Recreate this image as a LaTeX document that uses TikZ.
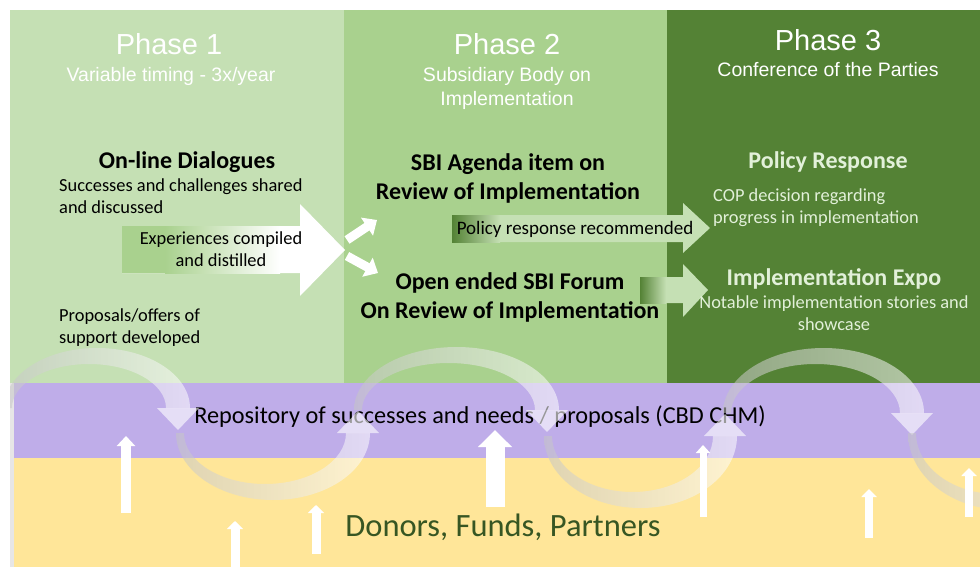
\documentclass[tikz,border=0pt]{standalone}
\usepackage{fontspec}
\setmainfont{Carlito}
\newfontfamily\headfont{Liberation Sans}
\usetikzlibrary{arrows.meta}

\definecolor{phaseone}{HTML}{C5E0B4}
\definecolor{phasetwo}{HTML}{A9D18E}
\definecolor{phasethree}{HTML}{548235}
\definecolor{repository}{HTML}{BFADE9}
\definecolor{donors}{HTML}{FFE699}
\definecolor{donortext}{HTML}{375623}
\definecolor{paletext}{HTML}{E2F0D9}
\definecolor{edgegray}{HTML}{E7E6E6}

\tikzset{
  phasetitle/.style={text=white, inner sep=0pt, anchor=base, font=\headfont\fontsize{29}{32}\selectfont},
  phasesub/.style={text=white, inner sep=0pt, anchor=base, align=center, font=\headfont\fontsize{19.5}{24}\selectfont},
  itemhead/.style={inner sep=0pt, anchor=base, align=center, font=\bfseries\fontsize{24}{29}\selectfont},
  itemtext/.style={inner sep=0pt, anchor=base, font=\fontsize{18.4}{22}\selectfont},
  ribbon/.style={left color=gray!45, right color=white, fill opacity=0.55},
  ribbonhead/.style={fill=white, fill opacity=0.6},
  uparrow/.style n args={3}{draw=white, line width=#1, -{Triangle[length=#3, width=#2]}},
  forkarrow/.style={draw=white, line width=9pt, -{Triangle[length=12pt, width=21pt]}}
}

\begin{document}
\begin{tikzpicture}[x=1pt, y=-1pt]
    \useasboundingbox (0,0) rectangle (980,567);
    % phase panels and bands
    \fill[phaseone] (10,10) rectangle (344,383);
    \fill[phasetwo] (344,10) rectangle (667,383);
    \fill[phasethree] (667,10) rectangle (980,383);
    \fill[edgegray] (10,383) rectangle (14,567);
    \fill[repository] (14,383) rectangle (980,458);
    \fill[donors] (14,458) rectangle (980,567);

    % phase 1
    \node[phasetitle] (phase1) at (169,55) {Phase 1};
    \node[phasesub] (phase1 sub) at (171,82) {Variable timing - 3x/year};
    \node[itemhead] (dialogues) at (187,168) {On-line Dialogues};
    \node[itemtext, anchor=base west, align=left] (dialogues text) at (59,213) {Successes and challenges shared\\and discussed};
    \fill[white] (122,226) -- (300,226) -- (300,204) -- (345,250) -- (300,296) -- (300,273) -- (122,273) -- cycle;
    \fill[phasetwo] (122,226) rectangle (165,273);
    \shade[left color=phasetwo, right color=white] (165,226) rectangle (280,273);
    \node[itemtext, align=center] (compiled) at (221,266) {Experiences compiled\\and distilled};
    \node[itemtext, anchor=base west, align=left] (proposals) at (59,343) {Proposals/offers of\\support developed};

    % phase 2
    \node[phasetitle] (phase2) at (507,55) {Phase 2};
    \node[phasesub] (phase2 sub) at (507,106) {Subsidiary Body on\\Implementation};
    \node[itemhead] (agenda) at (508,200) {SBI Agenda item on\\Review of Implementation};
    \node[itemhead] (forum) at (510,318) {Open ended SBI Forum\\On Review of Implementation};
    \coordinate (fork up) at (347,240);
    \coordinate (fork down) at (347,256);
    \coordinate (agenda in) at (377,220);
    \coordinate (forum in) at (378,273);
    \draw[forkarrow] (fork up) -- (agenda in);
    \draw[forkarrow] (fork down) -- (forum in);
    \fill[phaseone] (452,215) -- (683,215) -- (683,203) -- (710,228) -- (683,253) -- (683,242) -- (452,242) -- cycle;
    \shade[left color=phasethree, right color=phaseone] (452,215) rectangle (500,242);
    \node[itemtext, font=\fontsize{19}{22}\selectfont] (recommended) at (575,234) {Policy response recommended};
    \fill[phaseone] (640,277) -- (683,277) -- (683,264) -- (708,290) -- (683,317) -- (683,303) -- (640,303) -- cycle;
    \shade[left color=phasethree, right color=phaseone] (640,277) rectangle (666,303);

    % phase 3
    \node[phasetitle] (phase3) at (828,51) {Phase 3};
    \node[phasesub] (phase3 sub) at (828,77) {Conference of the Parties};
    \node[itemhead, text=paletext] (policy) at (828,168) {Policy Response};
    \node[itemtext, text=paletext, anchor=base west, align=left] (policy text) at (713,223) {COP decision regarding\\progress in implementation};
    \node[itemhead, text=paletext] (expo) at (834,285) {Implementation Expo};
    \node[itemtext, text=paletext, align=center] (expo text) at (834,330) {Notable implementation stories and\\showcase};

    % bands
    \node[inner sep=0pt, anchor=base, font=\fontsize{24.3}{28}\selectfont] (repo) at (480,423) {Repository of successes and needs / proposals (CBD CHM)};
    \node[inner sep=0pt, anchor=base, text=donortext, font=\fontsize{32.5}{36}\selectfont] (donors) at (503,536) {Donors, Funds, Partners};

    % cycle ribbons
    \begin{scope}
      \clip (10,0) rectangle (980,567);
      \shade[ribbon] (4,408) arc[start angle=180, end angle=360, x radius=93, y radius=60] -- (166,408) arc[start angle=360, end angle=180, x radius=77, y radius=44] -- cycle;
      \fill[ribbonhead] (157,408) -- (199,408) -- (178,430) -- cycle;
      \shade[ribbon] (176,433) arc[start angle=180, end angle=0, x radius=97, y radius=67] -- (346,433) arc[start angle=0, end angle=180, x radius=81, y radius=51] -- cycle;
      \fill[ribbonhead] (337,433) -- (379,433) -- (358,411) -- cycle;
      \shade[ribbon] (354,410) arc[start angle=180, end angle=360, x radius=102.5, y radius=63] -- (535,410) arc[start angle=360, end angle=180, x radius=86.5, y radius=47] -- cycle;
      \fill[ribbonhead] (526,410) -- (568,410) -- (547,432) -- cycle;
      \shade[ribbon] (544,436) arc[start angle=180, end angle=0, x radius=96.5, y radius=72] -- (713,436) arc[start angle=0, end angle=180, x radius=80.5, y radius=56] -- cycle;
      \fill[ribbonhead] (704,436) -- (746,436) -- (725,414) -- cycle;
      \shade[ribbon] (723,413) arc[start angle=180, end angle=360, x radius=100.5, y radius=65] -- (900,413) arc[start angle=360, end angle=180, x radius=84.5, y radius=49] -- cycle;
      \fill[ribbonhead] (891,413) -- (933,413) -- (912,435) -- cycle;
      \shade[ribbon] (908,433) arc[start angle=180, end angle=0, x radius=97, y radius=77] -- (1078,433) arc[start angle=0, end angle=180, x radius=81, y radius=61] -- cycle;
    \end{scope}

    % support arrows
    \draw[uparrow={10pt}{18pt}{10pt}] (126,513) -- (126,436);
    \draw[uparrow={9pt}{16pt}{8pt}] (235,567) -- (235,521);
    \draw[uparrow={9pt}{16pt}{8pt}] (316,554) -- (316,505);
    \draw[uparrow={19pt}{33pt}{17pt}] (495,507) -- (495,430);
    \draw[uparrow={7pt}{14pt}{8pt}] (703,517) -- (703,445);
    \draw[uparrow={8pt}{15pt}{8pt}] (869,538) -- (869,489);
    \draw[uparrow={8pt}{15pt}{8pt}] (969,517) -- (969,468);
\end{tikzpicture}
\end{document}
